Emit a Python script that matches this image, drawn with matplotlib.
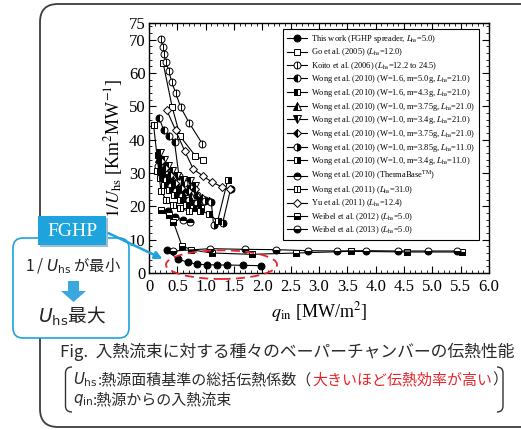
import matplotlib
matplotlib.use("Agg")
import matplotlib.pyplot as plt
from matplotlib.path import Path
from matplotlib.patches import FancyBboxPatch, Ellipse, Rectangle, Polygon, PathPatch, FancyArrowPatch
from matplotlib.ticker import MultipleLocator, FixedLocator, FuncFormatter

plt.rcParams['font.family'] = ['Liberation Serif', 'DejaVu Serif']
plt.rcParams['mathtext.fontset'] = 'stix'

# ---------------- data ----------------
this_x = [0.31, 0.52, 0.69, 0.85, 1.02, 1.20, 1.37, 1.65, 1.97]
this_y = [6.8, 4.1, 3.2, 2.6, 2.5, 2.4, 2.4, 2.3, 2.2]

go_x = [0.25, 0.41, 0.55, 0.82, 0.96]
go_y = [62.9, 49.7, 41.0, 35.1, 33.9]

koito_x = [0.22, 0.24, 0.26, 0.30, 0.35, 0.40, 0.47, 0.56, 0.71, 0.94]
koito_y = [70.1, 67.9, 65.6, 63.4, 60.6, 57.4, 54.0, 49.7, 45.0, 38.8]

wa_x = [0.18, 0.26, 0.36, 0.45, 0.53, 0.62, 0.72, 0.85, 0.98]
wa_y = [46.5, 42.8, 41.1, 39.3, 29.0, 27.0, 25.5, 23.5, 22.0]

wb_x = [0.15, 0.19, 0.24, 0.30, 0.37, 0.45, 0.55, 0.66, 0.78, 0.92]
wb_y = [35.5, 33.0, 31.5, 29.5, 27.5, 25.0, 23.5, 22.0, 20.5, 19.5]

wc_x = [0.17, 0.22, 0.28, 0.35, 0.43, 0.52, 0.62, 0.74, 0.86]
wc_y = [34.5, 33.0, 31.0, 29.5, 28.0, 26.0, 24.5, 23.0, 22.0]

wd_x = [0.20, 0.26, 0.33, 0.41, 0.50, 0.60, 0.72, 0.82]
wd_y = [36.0, 34.0, 32.0, 30.5, 29.0, 28.0, 27.7, 26.0]

we_x = [0.22, 0.29, 0.37, 0.46, 0.56, 0.68, 0.81, 0.93, 1.05]
we_y = [33.5, 31.5, 29.5, 27.0, 25.5, 24.5, 25.3, 22.5, 21.5]

wf_x = [0.16, 0.22, 0.30, 0.38, 0.48, 0.58, 0.70, 0.84, 0.98, 1.10, 1.14, 1.30, 1.44]
wf_y = [32.0, 30.0, 28.0, 26.0, 24.5, 23.0, 22.0, 21.0, 21.5, 21.2, 14.3, 15.0, 25.2]

wg_x = [0.14, 0.20, 0.27, 0.35, 0.44, 0.54, 0.65, 0.77, 0.90, 1.06, 1.21, 1.39]
wg_y = [30.5, 28.5, 26.5, 25.0, 23.5, 22.0, 20.5, 19.5, 18.5, 17.8, 15.5, 27.9]

thb_x = [0.34, 0.46, 0.60, 0.72]
thb_y = [18.5, 16.8, 15.8, 15.3]

w11_x = [0.08, 0.21, 0.30, 0.42, 0.55, 0.70]
w11_y = [44.5, 24.7, 22.0, 20.5, 19.5, 18.5]

yu_x = [0.31, 0.47, 0.63, 0.78, 0.96, 1.12, 1.28, 1.43]
yu_y = [49.0, 42.8, 36.6, 31.2, 29.0, 27.2, 25.9, 25.2]

wb12_x = [0.22, 0.36, 0.43, 0.58, 0.74, 1.11, 1.81, 2.60, 3.56, 4.56, 5.53]
wb12_y = [18.8, 17.3, 15.3, 8.2, 7.0, 6.0, 5.6, 6.0, 6.5, 6.3, 6.3]

wb13_x = [0.43, 1.08, 1.69, 2.24, 2.80, 3.31, 3.83, 4.39, 4.93, 5.44]
wb13_y = [6.6, 7.3, 7.1, 7.0, 6.7, 6.6, 6.7, 6.6, 6.6, 6.6]

x_ticks = [0, 0.5, 1.0, 1.5, 2.0, 2.5, 3.0, 3.5, 4.0, 4.5, 5.0, 5.5, 6.0]
y_ticks = [0, 10, 20, 30, 40, 50, 60, 70, 75]

labels = [
    r"This work (FGHP spreader, $L_{\rm hs}$=5.0)",
    r"Go et al. (2005) ($L_{\rm hs}$=12.0)",
    r"Koito et al. (2006) ($L_{\rm hs}$=12.2 to 24.5)",
    r"Wong et al. (2010) (W=1.6, m=5.0g, $L_{\rm hs}$=21.0)",
    r"Wong et al. (2010) (W=1.6, m=4.3g, $L_{\rm hs}$=21.0)",
    r"Wong et al. (2010) (W=1.0, m=3.75g, $L_{\rm hs}$=21.0)",
    r"Wong et al. (2010) (W=1.0, m=3.4g, $L_{\rm hs}$=21.0)",
    r"Wong et al. (2010) (W=1.0, m=3.75g, $L_{\rm hs}$=21.0)",
    r"Wong et al. (2010) (W=1.0, m=3.85g, $L_{\rm hs}$=11.0)",
    r"Wong et al. (2010) (W=1.0, m=3.4g, $L_{\rm hs}$=11.0)",
    r"Wong et al. (2010) (ThermaBase$^{\rm TM}$)",
    r"Wong et al. (2011) ($L_{\rm hs}$=31.0)",
    r"Yu et al. (2011) ($L_{\rm hs}$=12.4)",
    r"Weibel et al. (2012) ($L_{\rm hs}$=5.0)",
    r"Weibel et al. (2013) ($L_{\rm hs}$=5.0)",
]

# custom markers
circ_bar = Path.make_compound_path(Path.unit_circle(), Path([[0, -1], [0, 1]], [Path.MOVETO, Path.LINETO]))
sq = Path([[-1, -1], [1, -1], [1, 1], [-1, 1], [-1, -1]],
          [Path.MOVETO, Path.LINETO, Path.LINETO, Path.LINETO, Path.CLOSEPOLY])
sq_bar = Path.make_compound_path(sq, Path([[0, -1], [0, 1]], [Path.MOVETO, Path.LINETO]))

series = [
    (this_x, this_y, 'o', 'full', 'black'),
    (go_x, go_y, 's', 'none', 'white'),
    (koito_x, koito_y, circ_bar, 'full', 'white'),
    (wa_x, wa_y, 'o', 'left', 'black'),
    (wb_x, wb_y, 's', 'left', 'black'),
    (wc_x, wc_y, '^', 'left', 'black'),
    (wd_x, wd_y, 'v', 'left', 'black'),
    (we_x, we_y, 'D', 'left', 'black'),
    (wf_x, wf_y, 'o', 'right', 'black'),
    (wg_x, wg_y, 's', 'right', 'black'),
    (thb_x, thb_y, 'o', 'top', 'black'),
    (w11_x, w11_y, sq_bar, 'full', 'white'),
    (yu_x, yu_y, 'D', 'none', 'white'),
    (wb12_x, wb12_y, 's', 'bottom', 'black'),
    (wb13_x, wb13_y, 'o', 'bottom', 'black'),
]

W, H = 521, 430
fig = plt.figure(figsize=(W / 100, H / 100), dpi=100)
fig.patch.set_facecolor('white')

L, R, T, B = 149, 489, 23, 273
ax = fig.add_axes([L / W, 1 - B / H, (R - L) / W, (B - T) / H])

handles = []
for (xs, ys, mk, fs, fc), lab in zip(series, labels):
    ms = 5.0
    if mk == 'D':
        ms = 4.2
    if mk in ('^', 'v'):
        ms = 5.4
    if mk == 's':
        ms = 4.6
    kw = dict(color='black', lw=0.8, marker=mk, ms=ms, mec='black', mew=0.7,
              fillstyle=fs if fs != 'none' else 'full',
              mfc=('white' if fs == 'none' else fc), mfcalt='white')
    ln, = ax.plot(xs, ys, label=lab, **kw)
    handles.append(ln)

ax.set_xlim(0, 6.0)
ax.set_ylim(0, 75)
ax.xaxis.set_major_locator(FixedLocator(x_ticks))
ax.xaxis.set_major_formatter(FuncFormatter(lambda v, p: '0' if v == 0 else '%.1f' % v))
ax.xaxis.set_minor_locator(MultipleLocator(0.1))
ax.yaxis.set_major_locator(FixedLocator(y_ticks))
ax.yaxis.set_major_formatter(FuncFormatter(lambda v, p: '%d' % v))
ax.yaxis.set_minor_locator(MultipleLocator(2))
ax.tick_params(which='both', direction='in', top=True, right=True)
ax.tick_params(which='major', length=5, width=0.8, labelsize=12, pad=2.5)
ax.tick_params(which='minor', length=2.5, width=0.6)
ax.tick_params(axis='x', which='major', pad=4)
for s in ax.spines.values():
    s.set_linewidth(1.0)

ax.set_xlabel(r"$q_{\rm in}$ [MW/m$^2$]", fontsize=13, labelpad=4)
ax.set_ylabel(r"$1/U_{\rm hs}$ [Km$^2$MW$^{-1}$]", fontsize=13, labelpad=3)

leg = ax.legend(handles=handles, loc='upper left', bbox_to_anchor=(0.394, 0.976),
                fontsize=6.0, frameon=True, fancybox=False, edgecolor='black',
                framealpha=1, labelspacing=0.2, handlelength=2.4, handletextpad=0.5,
                borderpad=0.5, borderaxespad=0)
leg.get_frame().set_linewidth(0.8)

# red dashed ellipse around this work
ell = Ellipse((1.28, 2.5), 1.96, 8.6, fill=False, ec='#e8252a', lw=1.3,
              ls=(0, (5, 3)), clip_on=False, zorder=10)
ax.add_patch(ell)

# ---------------- overlay (pixel coordinates) ----------------
ov = fig.add_axes([0, 0, 1, 1], zorder=5)
ov.set_xlim(0, W)
ov.set_ylim(H, 0)
ov.axis('off')

# outer rounded frame
frame = FancyBboxPatch((40, 4), 560, 423, boxstyle="round,pad=0,rounding_size=18",
                       fc='none', ec='#3c3c3c', lw=1.3, clip_on=False)
ov.add_patch(frame)

blue = '#1fa3dc'
# callout box
cb = FancyBboxPatch((13, 238), 116, 100, boxstyle="round,pad=0,rounding_size=10",
                    fc='white', ec=blue, lw=1.2, zorder=3)
ov.add_patch(cb)
cjk = ['Noto Sans CJK JP', 'DejaVu Sans']
ov.text(73, 266, r"1 / $U_{\mathrm{hs}}$ が最小", fontsize=11, family=cjk, math_fontfamily='dejavusans',
        ha='center', va='center', color='#222222', zorder=4)
ov.text(72, 316, r"$U_{\mathrm{hs}}$最大", fontsize=13.5, family=cjk, math_fontfamily='dejavusans',
        ha='center', va='center', color='#222222', zorder=4)
arrow_poly = Polygon([[68, 281], [79, 281], [79, 291], [86, 291], [73.5, 302], [61, 291], [68, 291]],
                     closed=True, fc='#3aa7de', ec='none', zorder=4)
ov.add_patch(arrow_poly)

# FGHP label
ov.add_patch(Rectangle((40, 218), 68, 29, fc='#9bbfd0', ec='none', zorder=5))
ov.add_patch(Rectangle((38, 216), 68, 29, fc=blue, ec='none', zorder=6))
ov.text(72, 231, "FGHP", fontsize=14, color='white', ha='center', va='center', zorder=7,
        family=['Liberation Serif'])
arr = FancyArrowPatch((106, 232), (165, 260), arrowstyle='-|>', mutation_scale=11,
                      color=blue, lw=1.8, zorder=6)
ov.add_patch(arr)

# caption
ov.text(60, 352, "Fig.  入熱流束に対する種々のベーパーチャンバーの伝熱性能", fontsize=12.1,
        family=cjk, ha='left', va='center', color='#2a2a2a')

# brackets
def bracket(x_out, x_in, y0, y1):
    verts = [(x_in, y0), (x_out, y0), (x_out, y0 + 6), (x_out, y1 - 6), (x_out, y1), (x_in, y1)]
    codes = [Path.MOVETO, Path.CURVE3, Path.CURVE3, Path.LINETO, Path.CURVE3, Path.CURVE3]
    ov.add_patch(PathPatch(Path(verts, codes), fc='none', ec='#333333', lw=1.0))

bracket(65.5, 72, 367, 412)
bracket(503, 497, 367, 412)

fig.canvas.draw()
renderer = fig.canvas.get_renderer()

def seq_text(x, y, pieces, **kw):
    for s, col in pieces:
        t = ov.text(x, y, s, color=col, ha='left', va='center', **kw)
        bb = t.get_window_extent(renderer=renderer)
        x = ov.transData.inverted().transform((bb.x1, bb.y0))[0]
    return x

kw = dict(fontsize=10.8, family=cjk, math_fontfamily='dejavusans')
seq_text(73, 380, [(r"$U_{\mathrm{hs}}$", '#2a2a2a'),
                   (":熱源面積基準の総括伝熱係数（", '#2a2a2a'),
                   ("大きいほど伝熱効率が高い", '#e8252a'),
                   ("）", '#2a2a2a')], **kw)
seq_text(73, 400, [(r"$q_{\mathrm{in}}$", '#2a2a2a'),
                   (":熱源からの入熱流束", '#2a2a2a')], **kw)

fig.savefig("out.png", dpi=100)
